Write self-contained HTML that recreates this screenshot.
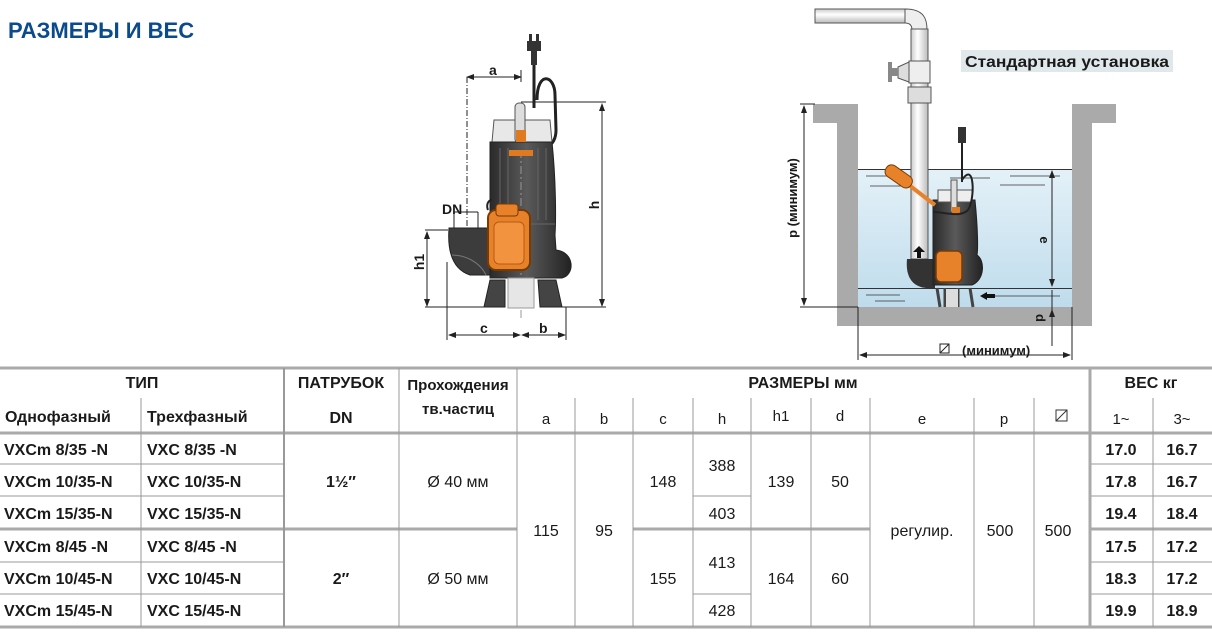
<!DOCTYPE html>
<html><head><meta charset="utf-8"><style>
html,body{margin:0;padding:0;background:#fff;width:1212px;height:636px;overflow:hidden}
svg{display:block}
text{font-family:"Liberation Sans",sans-serif;fill:#1a1a1a}
.b{font-weight:bold}
</style></head><body>
<svg width="1212" height="636" viewBox="0 0 1212 636" xmlns="http://www.w3.org/2000/svg">
<defs>
<linearGradient id="wat" x1="0" y1="0" x2="0" y2="1"><stop offset="0" stop-color="#e4f1f8"/><stop offset="1" stop-color="#bfdcec"/></linearGradient>
<linearGradient id="body" x1="0" y1="0" x2="1" y2="0"><stop offset="0" stop-color="#2a2a2a"/><stop offset="0.45" stop-color="#5a5a5a"/><stop offset="1" stop-color="#222"/></linearGradient>
<linearGradient id="pipe" x1="0" y1="0" x2="1" y2="0"><stop offset="0" stop-color="#ccc"/><stop offset="0.4" stop-color="#fff"/><stop offset="1" stop-color="#bbb"/></linearGradient>
<linearGradient id="pipeh" x1="0" y1="0" x2="0" y2="1"><stop offset="0" stop-color="#ccc"/><stop offset="0.4" stop-color="#fff"/><stop offset="1" stop-color="#bbb"/></linearGradient>
<marker id="ar" markerWidth="8" markerHeight="6" refX="7" refY="3" orient="auto-start-reverse"><path d="M0,0 L8,3 L0,6 Z" fill="#222"/></marker>
</defs>

<text x="8" y="38" class="b" font-size="22" style="fill:#0b4a8c">РАЗМЕРЫ  И  ВЕС</text>

<!-- ===== Pump drawing ===== -->
<g>
<rect x="529" y="34" width="3" height="8" fill="#333"/><rect x="536" y="34" width="3" height="8" fill="#333"/>
<rect x="527" y="41" width="14" height="10" fill="#333"/>
<rect x="531" y="51" width="6" height="14" fill="#333"/>
<path d="M534,65 L534,108" stroke="#222" stroke-width="3" fill="none"/>
<path d="M537,100 C537,70 555,75 555,95 L556,130 C556,150 540,150 520,152" stroke="#222" stroke-width="3" fill="none"/>
<path d="M494,120 L550,120 L552,142 L492,142 Z" fill="#e8e8e8" stroke="#555"/>
<rect x="515" y="103" width="10" height="40" rx="4" fill="#ddd" stroke="#555"/>
<path d="M490,142 L552,142 C556,180 556,220 555,235 L556,250 C575,252 575,275 562,278 L490,278 Z" fill="url(#body)" stroke="#222"/>
<g stroke="#666" stroke-width="1">
<line x1="500" y1="148" x2="500" y2="220"/><line x1="508" y1="148" x2="508" y2="220"/><line x1="538" y1="148" x2="538" y2="220"/><line x1="546" y1="148" x2="546" y2="220"/>
<line x1="490" y1="224" x2="555" y2="224"/>
</g>
<line x1="521" y1="150" x2="521" y2="320" stroke="#999" stroke-width="1" stroke-dasharray="8,3,2,3"/>
<path d="M449,228 L490,228 L490,275 L470,275 C455,270 447,255 449,228 Z" fill="#3c3c3c" stroke="#222"/>
<path d="M452,255 C465,255 480,262 486,275" stroke="#777" fill="none"/>
<path d="M484,307 L490,280 L505,280 L505,307 Z M540,307 L538,280 L556,280 L562,307 Z" fill="#444" stroke="#222"/>
<rect x="508" y="278" width="26" height="30" fill="#e6e6e6" stroke="#999"/>
<rect x="516" y="130" width="10" height="12" fill="#e07a20"/>
<path d="M509,150 L533,150 L533,156 L509,156 Z" fill="#e07a20"/>
<path d="M492,200 C488,200 486,205 488,210" stroke="#222" stroke-width="2" fill="none"/>
<rect x="488" y="210" width="42" height="60" rx="8" fill="#e8822a" stroke="#7a3a00" stroke-width="2"/>
<rect x="496" y="204" width="22" height="12" rx="3" fill="#e8822a" stroke="#7a3a00"/>
<rect x="494" y="222" width="30" height="42" rx="5" fill="#f29340" stroke="#b85a10"/>
<g stroke="#222" stroke-width="1" fill="none">
<line x1="467" y1="77" x2="521" y2="77" marker-start="url(#ar)" marker-end="url(#ar)"/>
<line x1="467" y1="77" x2="467" y2="228" stroke-dasharray="6,2,1,2"/>
<line x1="521" y1="70" x2="521" y2="82"/>
<line x1="521" y1="102" x2="606" y2="102"/>
<line x1="602" y1="104" x2="602" y2="306" marker-start="url(#ar)" marker-end="url(#ar)"/>
<line x1="562" y1="307" x2="606" y2="307"/>
<line x1="425" y1="230" x2="448" y2="230"/>
<line x1="427" y1="232" x2="427" y2="306" marker-start="url(#ar)" marker-end="url(#ar)"/>
<line x1="425" y1="307" x2="484" y2="307"/>
<line x1="447" y1="262" x2="447" y2="340"/>
<line x1="566" y1="307" x2="566" y2="340"/>
<line x1="449" y1="335" x2="520" y2="335" marker-start="url(#ar)" marker-end="url(#ar)"/>
<line x1="522" y1="335" x2="565" y2="335" marker-start="url(#ar)" marker-end="url(#ar)"/>
<line x1="454" y1="212" x2="478" y2="212"/>
<line x1="454" y1="212" x2="454" y2="228"/><line x1="478" y1="212" x2="478" y2="228"/>
</g>
<text x="489" y="75" class="b" font-size="14">a</text>
<text x="442" y="214" class="b" font-size="14">DN</text>
<text x="599" y="205" class="b" font-size="14" transform="rotate(-90 599 205)" text-anchor="middle">h</text>
<text x="424" y="262" class="b" font-size="14" transform="rotate(-90 424 262)" text-anchor="middle">h1</text>
<text x="480" y="333" class="b" font-size="14">c</text>
<text x="539" y="333" class="b" font-size="14">b</text>
</g>

<!-- ===== Installation ===== -->
<g>
<path d="M813,104 L858,104 L858,307 L1072,307 L1072,104 L1116,104 L1116,123 L1092,123 L1092,326 L837,326 L837,123 L813,123 Z" fill="#aaa"/>
<rect x="858" y="169" width="214" height="138" fill="url(#wat)"/>
<line x1="858" y1="169.5" x2="1072" y2="169.5" stroke="#333"/>
<line x1="858" y1="288.5" x2="1072" y2="288.5" stroke="#333"/>
<g stroke="#333" stroke-width="0.8">
<line x1="866" y1="176" x2="900" y2="176"/><line x1="950" y1="178" x2="990" y2="178"/><line x1="1010" y1="176" x2="1060" y2="176"/>
<line x1="870" y1="186" x2="905" y2="186"/><line x1="1000" y1="185" x2="1045" y2="185"/>
<line x1="866" y1="295" x2="900" y2="295"/><line x1="995" y1="296" x2="1060" y2="296"/><line x1="875" y1="301" x2="905" y2="301"/>
</g>
<rect x="815" y="9" width="92" height="14" fill="url(#pipeh)" stroke="#555"/>
<path d="M905,9 C925,9 927,20 927,30 L912,30 C912,26 910,23 905,23 Z" fill="#eee" stroke="#555"/>
<rect x="911" y="29" width="17" height="230" fill="url(#pipe)" stroke="#555"/>
<rect x="909" y="61" width="21" height="22" fill="#eee" stroke="#555"/>
<rect x="908" y="87" width="23" height="16" fill="#ddd" stroke="#555"/>
<path d="M898,67 L909,62 L909,82 L898,78 Z" fill="#ddd" stroke="#555"/>
<rect x="888" y="62" width="4" height="20" fill="#888"/>
<rect x="892" y="68" width="6" height="8" fill="#888"/>
<path d="M907,259 L935,259 L935,288 C915,290 905,280 907,259 Z" fill="#333"/>
<path d="M913,252 L919,246 L925,252 L921,252 L921,258 L917,258 L917,252 Z" fill="#111"/>
<path d="M933,200 L975,200 C978,230 978,250 977,255 C985,260 985,280 972,285 L933,285 Z" fill="url(#body)" stroke="#222"/>
<rect x="938" y="190" width="34" height="12" fill="#eee" stroke="#555"/>
<rect x="951" y="180" width="6" height="32" fill="#ddd" stroke="#555"/>
<rect x="952" y="207" width="8" height="7" fill="#e07a20"/>
<path d="M962,140 L962,182" stroke="#222" stroke-width="2"/>
<rect x="958" y="127" width="8" height="16" fill="#333"/>
<path d="M962,180 C975,160 975,200 968,210 C960,218 945,212 933,212" stroke="#222" stroke-width="2" fill="none"/>
<path d="M937,288 L940,307 M945,288 L945,307 M958,288 L958,307 M970,288 L973,307" stroke="#444" stroke-width="3"/>
<rect x="946" y="289" width="12" height="18" fill="#ddd"/>
<rect x="936" y="251" width="26" height="31" rx="5" fill="#e8822a" stroke="#7a3a00" stroke-width="1.5"/>
<path d="M905,182 L935,205" stroke="#e8822a" stroke-width="4" fill="none"/>
<rect x="884" y="170" width="30" height="13" rx="6" fill="#e8822a" stroke="#7a3a00" transform="rotate(35 899 176)"/>
<path d="M980,296 L987,292 L987,294 L995,294 L995,298 L987,298 L987,300 Z" fill="#111"/>
<g stroke="#222" stroke-width="1" fill="none">
<line x1="800" y1="104" x2="815" y2="104"/>
<line x1="804" y1="106" x2="804" y2="305" marker-start="url(#ar)" marker-end="url(#ar)"/>
<line x1="800" y1="307" x2="858" y2="307"/>
<line x1="1052" y1="171" x2="1052" y2="286" marker-start="url(#ar)" marker-end="url(#ar)"/>
<line x1="1052" y1="290" x2="1052" y2="346"/>
<line x1="1052" y1="310" x2="1052" y2="330" marker-start="url(#ar)"/>
<line x1="858" y1="307" x2="858" y2="360"/>
<line x1="1072" y1="307" x2="1072" y2="360"/>
<line x1="860" y1="355" x2="1070" y2="355" marker-start="url(#ar)" marker-end="url(#ar)"/>
<rect x="940" y="344" width="9" height="9" stroke-width="1"/>
<line x1="940" y1="353" x2="949" y2="344"/>
</g>
<text x="797" y="198" class="b" font-size="13" transform="rotate(-90 797 198)" text-anchor="middle">p  (минимум)</text>
<text x="1040" y="240" class="b" font-size="13" transform="rotate(90 1040 240)" text-anchor="middle">e</text>
<text x="1036" y="318" class="b" font-size="13" transform="rotate(90 1036 318)" text-anchor="middle">d</text>
<text x="962" y="355" class="b" font-size="13">(минимум)</text>
<rect x="961" y="50" width="212" height="22" fill="#e0e8ec"/>
<text x="965" y="67" class="b" font-size="16" textLength="204" lengthAdjust="spacingAndGlyphs">Стандартная установка</text>
</g>

<!-- ===== Table ===== -->
<g stroke="#999" stroke-width="1">
<line x1="0" y1="368" x2="1212" y2="368" stroke-width="3" stroke="#aaa"/>
<line x1="0" y1="433" x2="1212" y2="433" stroke-width="3" stroke="#aaa"/>
<line x1="0" y1="627" x2="1212" y2="627" stroke-width="3" stroke="#aaa"/>
<line x1="0" y1="529" x2="517" y2="529" stroke-width="3" stroke="#aaa"/>
<line x1="633" y1="529" x2="870" y2="529" stroke-width="3" stroke="#aaa"/>
<line x1="1090" y1="529" x2="1212" y2="529" stroke-width="3" stroke="#aaa"/>
<line x1="0" y1="464" x2="284" y2="464"/><line x1="0" y1="496" x2="284" y2="496"/>
<line x1="0" y1="562" x2="284" y2="562"/><line x1="0" y1="594" x2="284" y2="594"/>
<line x1="1090" y1="464" x2="1212" y2="464"/><line x1="1090" y1="496" x2="1212" y2="496"/>
<line x1="1090" y1="562" x2="1212" y2="562"/><line x1="1090" y1="594" x2="1212" y2="594"/>
<line x1="693" y1="496" x2="751" y2="496"/><line x1="693" y1="594" x2="751" y2="594"/>
<line x1="141" y1="398" x2="141" y2="627"/>
<line x1="284" y1="368" x2="284" y2="627" stroke-width="2"/>
<line x1="399" y1="368" x2="399" y2="627"/>
<line x1="517" y1="368" x2="517" y2="627"/>
<line x1="575" y1="398" x2="575" y2="627"/>
<line x1="633" y1="398" x2="633" y2="627"/>
<line x1="693" y1="398" x2="693" y2="627"/>
<line x1="751" y1="398" x2="751" y2="627"/>
<line x1="811" y1="398" x2="811" y2="627"/>
<line x1="870" y1="398" x2="870" y2="627"/>
<line x1="974" y1="398" x2="974" y2="627"/>
<line x1="1034" y1="398" x2="1034" y2="627"/>
<line x1="1090" y1="368" x2="1090" y2="627" stroke-width="3" stroke="#aaa"/>
<line x1="1153" y1="398" x2="1153" y2="627"/>
</g>
<g font-size="16" class="b">
<text x="142" y="388" text-anchor="middle" class="b">ТИП</text>
<text x="341" y="388" text-anchor="middle" class="b">ПАТРУБОК</text>
<text x="458" y="390" text-anchor="middle" class="b" font-size="15">Прохождения</text>
<text x="458" y="414" text-anchor="middle" class="b" font-size="15">тв.частиц</text>
<text x="803" y="388" text-anchor="middle" class="b">РАЗМЕРЫ  мм</text>
<text x="1151" y="388" text-anchor="middle" class="b">ВЕС  кг</text>
<text x="5" y="422" class="b">Однофазный</text>
<text x="147" y="422" class="b">Трехфазный</text>
<text x="341" y="423" text-anchor="middle" class="b">DN</text>
</g>
<g font-size="15" text-anchor="middle">
<text x="546" y="424">a</text><text x="604" y="424">b</text><text x="663" y="424">c</text><text x="722" y="424">h</text>
<text x="781" y="421">h1</text><text x="840" y="421">d</text><text x="922" y="424">e</text><text x="1004" y="424">p</text>
<text x="1121" y="424">1~</text><text x="1182" y="424">3~</text>
</g>
<g stroke="#333" fill="none"><rect x="1056" y="410" width="11" height="11"/><line x1="1056" y1="421" x2="1067" y2="410"/></g>
<g font-size="16" class="b">
<text x="4" y="455" class="b">VXCm 8/35  -N</text><text x="147" y="455" class="b">VXC 8/35  -N</text>
<text x="4" y="487" class="b">VXCm 10/35-N</text><text x="147" y="487" class="b">VXC 10/35-N</text>
<text x="4" y="519" class="b">VXCm 15/35-N</text><text x="147" y="519" class="b">VXC 15/35-N</text>
<text x="4" y="552" class="b">VXCm 8/45  -N</text><text x="147" y="552" class="b">VXC 8/45  -N</text>
<text x="4" y="584" class="b">VXCm 10/45-N</text><text x="147" y="584" class="b">VXC 10/45-N</text>
<text x="4" y="616" class="b">VXCm 15/45-N</text><text x="147" y="616" class="b">VXC 15/45-N</text>
<text x="341" y="487" text-anchor="middle" class="b">1½″</text>
<text x="341" y="584" text-anchor="middle" class="b">2″</text>
</g>
<g font-size="16" text-anchor="middle">
<text x="458" y="487">Ø 40 мм</text><text x="458" y="584">Ø 50 мм</text>
<text x="546" y="536">115</text><text x="604" y="536">95</text>
<text x="663" y="487">148</text><text x="663" y="584">155</text>
<text x="722" y="471">388</text><text x="722" y="519">403</text>
<text x="722" y="568">413</text><text x="722" y="616">428</text>
<text x="781" y="487">139</text><text x="840" y="487">50</text>
<text x="781" y="584">164</text><text x="840" y="584">60</text>
<text x="922" y="536">регулир.</text><text x="1000" y="536">500</text><text x="1058" y="536">500</text>
</g>
<g font-size="16" text-anchor="middle" class="b">
<text x="1121" y="455" class="b">17.0</text><text x="1182" y="455" class="b">16.7</text>
<text x="1121" y="487" class="b">17.8</text><text x="1182" y="487" class="b">16.7</text>
<text x="1121" y="519" class="b">19.4</text><text x="1182" y="519" class="b">18.4</text>
<text x="1121" y="552" class="b">17.5</text><text x="1182" y="552" class="b">17.2</text>
<text x="1121" y="584" class="b">18.3</text><text x="1182" y="584" class="b">17.2</text>
<text x="1121" y="616" class="b">19.9</text><text x="1182" y="616" class="b">18.9</text>
</g>
</svg>
</body></html>
